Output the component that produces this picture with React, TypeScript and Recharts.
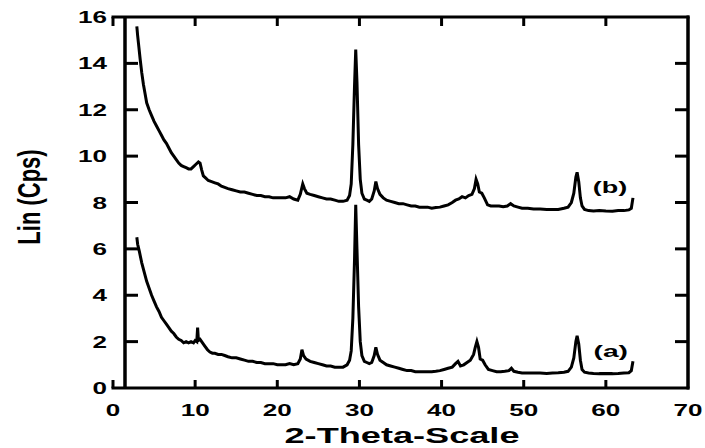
import React from 'react';
import { LineChart, Line, XAxis, YAxis, ReferenceLine, ReferenceDot } from 'recharts';

const xTicks = [0, 10, 20, 30, 40, 50, 60, 70];
const yTicks = [0, 2, 4, 6, 8, 10, 12, 14, 16];
const innerYTicks = [2, 4, 6, 8, 10, 12, 14];
const innerXTicks = [0, 10, 20, 30, 40, 50, 60];

const xA = [2.9,3.0,3.2,3.5,3.8,4.1,4.4,4.7,5.0,5.3,5.6,5.9,6.2,6.5,6.8,7.1,7.4,7.7,8.0,8.3,8.6,8.9,9.2,9.5,9.8,10.0,10.2,10.3,10.4,10.6,10.9,11.2,11.5,11.8,12.1,12.4,12.8,13.2,13.6,14.0,14.5,15.0,15.5,16.0,16.5,17.0,17.5,18.0,18.5,19.0,19.5,20.0,20.5,21.0,21.5,22.0,22.5,22.8,23.0,23.2,23.5,24.0,24.5,25.0,25.5,26.0,26.5,27.0,27.5,28.0,28.5,28.8,29.0,29.2,29.4,29.55,29.7,29.9,30.1,30.3,30.6,30.9,31.2,31.5,31.8,32.0,32.2,32.5,32.9,33.3,33.8,34.3,34.8,35.3,35.8,36.3,36.8,37.3,37.8,38.3,38.8,39.3,39.8,40.3,40.8,41.3,41.7,42.0,42.3,42.7,43.1,43.5,43.9,44.1,44.3,44.5,44.7,45.0,45.3,45.7,46.2,46.7,47.2,47.7,48.2,48.5,48.8,49.3,49.8,50.5,51.2,52.0,52.8,53.5,54.2,54.9,55.4,55.8,56.1,56.35,56.5,56.7,56.9,57.1,57.4,57.9,58.5,59.2,60.0,60.8,61.5,62.2,62.8,63.1,63.3];
const yA = [6.5,6.2,5.9,5.4,5.0,4.6,4.3,4.0,3.75,3.5,3.3,3.05,2.9,2.75,2.6,2.45,2.35,2.2,2.1,2.05,1.95,2.0,1.95,2.0,1.95,2.05,2.0,2.6,2.05,2.1,1.95,1.8,1.65,1.55,1.5,1.5,1.45,1.45,1.4,1.35,1.3,1.3,1.25,1.2,1.15,1.15,1.1,1.1,1.05,1.05,1.05,1.0,1.0,1.0,1.05,1.0,1.05,1.25,1.65,1.4,1.25,1.15,1.1,1.05,1.0,0.95,0.95,0.9,0.9,0.9,1.0,1.2,1.6,3.0,5.5,7.9,6.0,3.5,2.0,1.4,1.15,1.1,1.05,1.1,1.4,1.75,1.45,1.2,1.1,1.0,0.95,0.9,0.85,0.8,0.75,0.75,0.7,0.7,0.7,0.7,0.7,0.72,0.75,0.8,0.85,0.9,1.05,1.15,0.95,1.0,1.1,1.2,1.45,1.75,2.0,1.75,1.25,1.2,1.0,0.8,0.75,0.7,0.7,0.72,0.75,0.85,0.72,0.68,0.65,0.65,0.65,0.65,0.63,0.65,0.66,0.68,0.72,0.9,1.3,2.0,2.25,1.9,1.2,0.8,0.68,0.65,0.63,0.62,0.63,0.62,0.63,0.65,0.66,0.75,1.15];

const xB = [2.9,3.0,3.15,3.3,3.5,3.7,3.9,4.1,4.4,4.7,5.0,5.3,5.6,5.9,6.2,6.5,6.8,7.1,7.4,7.7,8.0,8.3,8.6,8.9,9.2,9.5,9.8,10.1,10.4,10.6,10.8,11.0,11.3,11.6,12.0,12.4,12.8,13.2,13.6,14.0,14.5,15.0,15.5,16.0,16.5,17.0,17.5,18.0,18.5,19.0,19.5,20.0,20.5,21.0,21.5,22.0,22.5,22.8,23.1,23.3,23.6,24.0,24.5,25.0,25.5,26.0,26.5,27.0,27.5,28.0,28.5,28.8,29.0,29.2,29.4,29.55,29.7,29.9,30.1,30.3,30.6,30.9,31.2,31.5,31.8,32.0,32.2,32.5,32.9,33.3,33.8,34.3,34.8,35.3,35.8,36.3,36.8,37.3,37.8,38.3,38.8,39.3,39.8,40.3,40.8,41.3,41.7,42.1,42.5,42.9,43.3,43.7,44.0,44.2,44.4,44.6,44.9,45.2,45.6,46.0,46.5,47.0,47.5,48.0,48.4,48.8,49.3,49.8,50.5,51.2,52.0,52.8,53.5,54.2,54.9,55.4,55.8,56.1,56.35,56.5,56.7,56.9,57.1,57.4,57.9,58.5,59.2,60.0,60.8,61.5,62.2,62.8,63.1,63.3];
const yB = [15.6,15.2,14.7,14.2,13.6,13.1,12.7,12.3,12.0,11.75,11.5,11.3,11.1,10.9,10.7,10.55,10.35,10.15,10.0,9.85,9.7,9.6,9.55,9.5,9.45,9.45,9.55,9.65,9.75,9.7,9.4,9.15,9.05,8.95,8.9,8.85,8.8,8.7,8.65,8.6,8.55,8.5,8.45,8.45,8.4,8.35,8.3,8.3,8.25,8.25,8.2,8.2,8.2,8.2,8.25,8.15,8.1,8.35,8.8,8.6,8.4,8.35,8.3,8.25,8.2,8.15,8.15,8.1,8.05,8.05,8.1,8.3,8.8,10.5,13.0,14.6,13.2,10.5,9.0,8.4,8.15,8.1,8.05,8.15,8.5,8.9,8.6,8.35,8.2,8.1,8.05,8.0,7.95,7.95,7.9,7.85,7.85,7.8,7.8,7.8,7.75,7.78,7.8,7.85,7.9,8.0,8.1,8.15,8.25,8.2,8.3,8.35,8.6,9.0,8.8,8.45,8.4,8.2,7.9,7.85,7.85,7.85,7.82,7.85,7.95,7.85,7.8,7.75,7.75,7.72,7.72,7.7,7.7,7.7,7.75,7.8,8.0,8.4,9.1,9.3,8.9,8.2,7.85,7.7,7.65,7.63,7.65,7.63,7.62,7.65,7.65,7.68,7.75,8.2];

const dataA = xA.map((x, i) => ({ x, y: yA[i] }));
const dataB = xB.map((x, i) => ({ x, y: yB[i] }));

const FONT = '"Liberation Sans", Arial, sans-serif';
const W = 705;
const H = 448;
const M = { top: 17, right: 17, bottom: 0, left: 33 };
const Y_AXIS_W = 80;
const X_AXIS_H = 60;
const X_DOMAIN = [0, 70];
const Y_DOMAIN = [0, 16];
const LEFT_AXIS_X = 1.46;

// plot box derived from the same layout constants given to Recharts
const PL = M.left + Y_AXIS_W;
const PR = W - M.right;
const PT = M.top;
const PB = H - M.bottom - X_AXIS_H;
const sx = (v: number) => PL + ((v - X_DOMAIN[0]) / (X_DOMAIN[1] - X_DOMAIN[0])) * (PR - PL);
const sy = (v: number) => PB - ((v - Y_DOMAIN[0]) / (Y_DOMAIN[1] - Y_DOMAIN[0])) * (PB - PT);

const StretchText = ({ x, y, text, anchor = 'middle', size = 17, perChar = 14.5 }: any) => (
  <text x={x} y={y} textAnchor={anchor} fontSize={size} fontWeight="bold" fontFamily={FONT}
    fill="#000" textLength={text.length * perChar} lengthAdjust="spacingAndGlyphs">{text}</text>
);

const BottomTick = (props: any) => {
  const { x, y, payload } = props;
  return <StretchText x={x} y={y + 28} text={String(payload.value)} />;
};

const LeftTick = (props: any) => {
  const { x, y, payload } = props;
  return <StretchText x={x - 6} y={y + 6} text={String(payload.value)} anchor="end" />;
};

const XTitle = () => (
  <text x={402} y={443} textAnchor="middle" fontSize={22} fontWeight="bold" fontFamily={FONT}
    fill="#000" textLength={235} lengthAdjust="spacingAndGlyphs">2-Theta-Scale</text>
);

const YTitle = () => (
  <text transform="translate(29,197) scale(1.4,1) rotate(-90)" x={0} y={0} dy="0.35em" textAnchor="middle"
    fontSize={22} fontWeight="bold" fontFamily={FONT} fill="#000">Lin (Cps)</text>
);

const tagLabel = (text: string) => (props: any) => {
  const vb = props.viewBox || {};
  return <StretchText x={vb.x} y={vb.y + 6} text={text} perChar={11.5} />;
};

const seg = (key: string, x1: number, y1: number, x2: number, y2: number) => (
  <path key={key} d={`M${x1},${y1}L${x2},${y2}`} stroke="#000" strokeWidth={3} fill="none" />
);

function Frame() {
  const la = sx(LEFT_AXIS_X);
  const parts = [
    seg('top', PL - 1.5, PT, PR + 1.5, PT),
    seg('bottom', PL - 1.5, PB, PR + 1.5, PB),
    seg('left', la, PT, la, PB),
    seg('right', PR, PT - 1.5, PR, PB + 1.5),
  ];
  innerXTicks.forEach((t) => {
    parts.push(seg('bt' + t, sx(t), PB, sx(t), PB - 8));
    parts.push(seg('tt' + t, sx(t), PT, sx(t), PT + 9));
  });
  innerYTicks.forEach((t) => {
    parts.push(seg('lt' + t, la, sy(t), la + 13, sy(t)));
    parts.push(seg('rt' + t, PR - 13, sy(t), PR, sy(t)));
  });
  return (
    <svg width={W} height={H} style={{ position: 'absolute', left: 0, top: 0, pointerEvents: 'none' }}>
      {parts}
    </svg>
  );
}

export default function App() {
  return (
    <div style={{ position: 'absolute', left: 0, top: 0, width: W, height: H }}>
      <LineChart width={W} height={H} margin={M}>
        <XAxis dataKey="x" type="number" domain={X_DOMAIN} ticks={xTicks} height={X_AXIS_H}
          axisLine={false} tickLine={false} tickSize={0} tickMargin={0}
          tick={<BottomTick />} interval={0} label={<XTitle />} />
        <YAxis type="number" domain={Y_DOMAIN} ticks={yTicks} width={Y_AXIS_W} axisLine={false} tickLine={false}
          tickSize={0} tickMargin={0} tick={<LeftTick />} interval={0} label={<YTitle />} />
        <ReferenceLine x={LEFT_AXIS_X} stroke="#000" strokeWidth={3} ifOverflow="visible" />
        <ReferenceLine x={70} stroke="#000" strokeWidth={3} ifOverflow="visible" />
        <Line data={dataB} dataKey="y" type="linear" stroke="#000" strokeWidth={3} dot={false}
          isAnimationActive={false} />
        <Line data={dataA} dataKey="y" type="linear" stroke="#000" strokeWidth={3} dot={false}
          isAnimationActive={false} />
        <ReferenceDot x={60.5} y={8.67} r={0} stroke="none" fill="none" label={tagLabel('(b)')} />
        <ReferenceDot x={60.6} y={1.6} r={0} stroke="none" fill="none" label={tagLabel('(a)')} />
      </LineChart>
      <Frame />
    </div>
  );
}
